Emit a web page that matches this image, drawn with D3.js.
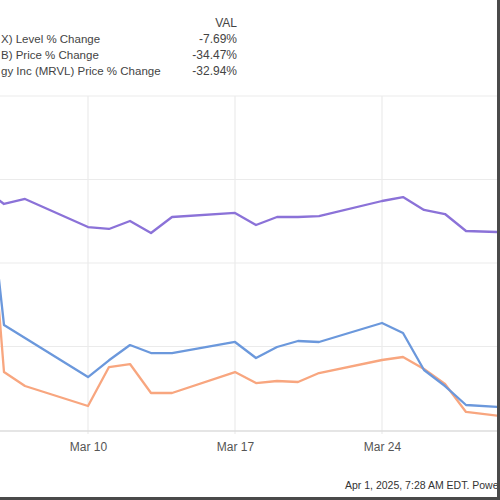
<!DOCTYPE html>
<html><head><meta charset="utf-8">
<script src="https://cdn.jsdelivr.net/npm/d3@7"></script>
<style>html,body{margin:0;padding:0;background:#fff;overflow:hidden} svg{display:block;font-family:"Liberation Sans",Arial,Helvetica,sans-serif;}</style>
</head><body><svg id="c" width="500" height="500"></svg>
<script>
// ---- data ----
const dates = ["2025-03-05","2025-03-06","2025-03-07","2025-03-10","2025-03-11","2025-03-12","2025-03-13","2025-03-14",
  "2025-03-17","2025-03-18","2025-03-19","2025-03-20","2025-03-21","2025-03-24","2025-03-25","2025-03-26","2025-03-27","2025-03-28","2025-03-31"];
const levelNDX  = [-1.22,-3.52,-2.80,-6.83,-7.11,-5.96,-7.69,-5.39,-4.81,-6.54,-5.39,-5.39,-5.25,-3.09,-2.52,-4.38,-4.96,-7.40,-7.69];
const priceALAB = [9.97,-27.67,-29.68,-32.55,-26.95,-26.52,-30.68,-30.68,-27.67,-29.25,-28.96,-29.10,-27.81,-25.94,-25.51,-27.24,-29.39,-33.41,-34.47];
const priceMRVL = [6.40,-20.91,-22.78,-28.39,-25.98,-23.79,-24.94,-24.94,-23.35,-25.65,-24.07,-23.21,-23.35,-20.62,-22.06,-27.38,-29.68,-32.41,-32.94];
// legend names as visible in the (cropped) reference
const seriesNames = ["X) Level % Change","B) Price % Change","gy Inc (MRVL) Price % Change"];
const seriesLast = ["-7.69%","-34.47%","-32.94%"];
const legendHeader = "VAL";
const xTickDates = ["2025-03-03","2025-03-10","2025-03-17","2025-03-24","2025-03-31"];
const xTickLabels = ["Mar 3","Mar 10","Mar 17","Mar 24","Mar 31"];
const yTicks = [12,0,-12,-24,-36];
const footer = "Apr 1, 2025, 7:28 AM EDT.  Powe";

// ---- layout / style ----
const colors = ["#8b72d8","#f8a67f","#6b98dc"];
const seriesVals = [levelNDX, priceALAB, priceMRVL];
const parse = d3.utcParse("%Y-%m-%d");
const svg = d3.select("#c");
svg.append("rect").attr("width",500).attr("height",500).attr("fill","#fff");

const x = d3.scaleUtc().domain([parse("2025-03-01"), parse("2025-04-01")]).range([-101, 550]);
const y = d3.scaleLinear().domain([-36, 12]).range([430, 96]);
const plotR = 497;

// clip
svg.append("defs").append("clipPath").attr("id","clip")
  .append("rect").attr("x",0).attr("y",88).attr("width",plotR).attr("height",346);

// gridlines
const grid = svg.append("g").attr("clip-path","url(#clip)");
grid.selectAll("line.h").data(yTicks.slice(0,-1)).join("line")
  .attr("x1",0).attr("x2",plotR).attr("y1",d=>y(d)).attr("y2",d=>y(d))
  .attr("stroke","#ebebeb").attr("stroke-width",1.2);
grid.selectAll("line.v").data(xTickDates).join("line")
  .attr("x1",d=>x(parse(d))).attr("x2",d=>x(parse(d))).attr("y1",y(12)).attr("y2",y(-36)+4)
  .attr("stroke","#ebebeb").attr("stroke-width",1.2);

// x axis (only labels whose tick falls inside the visible crop)
const visTicks = xTickDates.map((d,i)=>({d:parse(d),l:xTickLabels[i]})).filter(t=>x(t.d)>30 && x(t.d)<plotR-30);
const xAxis = d3.axisBottom(x).tickValues(visTicks.map(t=>t.d)).tickFormat((d,i)=>visTicks[i].l).tickSize(0).tickPadding(11);
const ax = svg.append("g").attr("transform",`translate(0,${y(-36)+1})`).call(xAxis);
ax.select(".domain").remove();
ax.selectAll("text").attr("fill","#555").attr("font-size",12).attr("font-family","Liberation Sans, Arial, sans-serif");
svg.append("line").attr("x1",0).attr("x2",plotR).attr("y1",y(-36)+1).attr("y2",y(-36)+1).attr("stroke","#dcdcdc").attr("stroke-width",1.5);

// lines
const line = d3.line().x((d,i)=>x(parse(dates[i]))).y(d=>y(d));
const lg = svg.append("g").attr("clip-path","url(#clip)");
lg.selectAll("path").data(seriesVals).join("path")
  .attr("d",d=>line(d)).attr("fill","none")
  .attr("stroke",(d,i)=>colors[i]).attr("stroke-width",2.3)
  .attr("stroke-linejoin","round").attr("stroke-linecap","round");

// legend
const leg = svg.append("g").attr("font-size",12).attr("fill","#444");
leg.append("text").attr("x",237).attr("y",23).attr("text-anchor","end").attr("dominant-baseline","central").text(legendHeader);
seriesNames.forEach((n,i)=>{
  leg.append("text").attr("x",1).attr("y",39+i*16).attr("font-size",11.5).attr("dominant-baseline","central").text(n);
  leg.append("text").attr("x",237).attr("y",39+i*16).attr("text-anchor","end").attr("dominant-baseline","central").text(seriesLast[i]);
});

// footer
svg.append("text").attr("x",345).attr("y",485).attr("dominant-baseline","central")
  .attr("font-size",10.5).attr("fill","#333").text(footer);

// screenshot border
svg.append("rect").attr("x",497).attr("y",0).attr("width",3).attr("height",500).attr("fill","#4a4a4a");
svg.append("rect").attr("x",0).attr("y",497).attr("width",500).attr("height",3).attr("fill","#4a4a4a");
</script></body></html>
